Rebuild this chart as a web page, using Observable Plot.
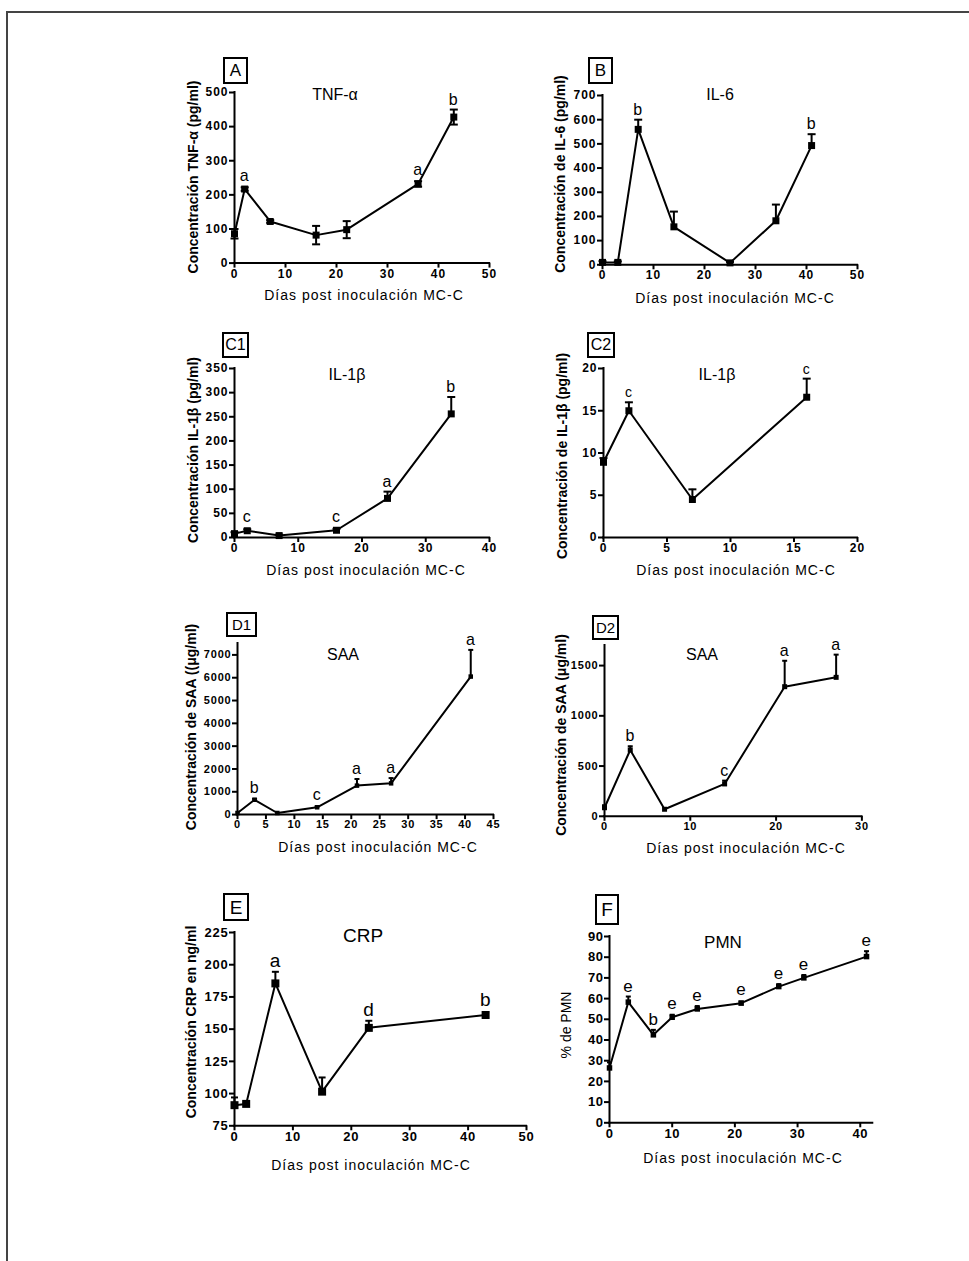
<!DOCTYPE html>
<html><head><meta charset="utf-8">
<script src="https://cdn.jsdelivr.net/npm/d3@7"></script>
<script src="https://cdn.jsdelivr.net/npm/@observablehq/plot@0.6"></script>
<style>
body{margin:0;background:#fff;}
#page{position:relative;width:969px;height:1261px;overflow:hidden;font-family:'Liberation Sans',Arial,sans-serif;color:#000;}
.bl{position:absolute;background:#444;}
.box{position:absolute;border:2px solid #000;box-sizing:border-box;display:flex;align-items:center;justify-content:center;line-height:1;}
.t{position:absolute;transform:translate(-50%,-50%);white-space:nowrap;line-height:1;}
.xl{position:absolute;transform:translate(-50%,-50%);white-space:nowrap;font-size:14px;letter-spacing:1px;line-height:1;}
.yl{position:absolute;transform:translate(-50%,-50%) rotate(-90deg);white-space:nowrap;font-weight:bold;font-size:14px;line-height:1;}
.panel{position:absolute;}
</style></head><body><div id="page"></div>
<script>
// ---------- DATA ----------
const xTitle = "Días post inoculación MC-C";

// A: TNF-alpha
const tnfDays = [0, 2, 7, 16, 22, 36, 43];
const tnfMean = [86, 217, 122, 82, 98, 232, 428];
const tnfErr  = [14, 5, 4, 27, 25, 8, 22];
const tnfSig  = ["", "a", "", "", "", "a", "b"];
const tnfXTicks = [0, 10, 20, 30, 40, 50];
const tnfYTicks = [0, 100, 200, 300, 400, 500];

// B: IL-6
const il6Days = [0, 3, 7, 14, 25, 34, 41];
const il6Mean = [10, 10, 560, 157, 8, 182, 493];
const il6Err  = [5, 4, 40, 63, 4, 67, 47];
const il6Sig  = ["", "", "b", "", "", "", "b"];
const il6XTicks = [0, 10, 20, 30, 40, 50];
const il6YTicks = [0, 100, 200, 300, 400, 500, 600, 700];

// C1: IL-1beta
const il1aDays = [0, 2, 7, 16, 24, 34];
const il1aMean = [8, 14, 4, 15, 81, 256];
const il1aErr  = [3, 3, 2, 3, 14, 35];
const il1aSig  = ["", "c", "", "c", "a", "b"];
const il1aXTicks = [0, 10, 20, 30, 40];
const il1aYTicks = [0, 50, 100, 150, 200, 250, 300, 350];

// C2: IL-1beta (first days)
const il1bDays = [0, 2, 7, 16];
const il1bMean = [8.9, 15.0, 4.5, 16.6];
const il1bErr  = [0.5, 1.0, 1.2, 2.2];
const il1bSig  = ["", "c", "", "c"];
const il1bXTicks = [0, 5, 10, 15, 20];
const il1bYTicks = [0, 5, 10, 15, 20];

// D1: SAA
const saaaDays = [0, 3, 7, 14, 21, 27, 41];
const saaaMean = [70, 650, 70, 320, 1270, 1370, 6050];
const saaaErr  = [0, 40, 0, 40, 290, 230, 1170];
const saaaSig  = ["", "b", "", "c", "a", "a", "a"];
const saaaXTicks = [0, 5, 10, 15, 20, 25, 30, 35, 40, 45];
const saaaYTicks = [0, 1000, 2000, 3000, 4000, 5000, 6000, 7000];

// D2: SAA (first days)
const saabDays = [0, 3, 7, 14, 21, 27];
const saabMean = [85, 660, 70, 322, 1290, 1383];
const saabErr  = [25, 37, 0, 33, 258, 226];
const saabSig  = ["", "b", "", "c", "a", "a"];
const saabXTicks = [0, 10, 20, 30];
const saabYTicks = [0, 500, 1000, 1500];

// E: CRP
const crpDays = [0, 2, 7, 15, 23, 43];
const crpMean = [91, 92, 185.5, 101.5, 151, 161];
const crpErr  = [6, 1, 9, 11, 5.5, 2];
const crpSig  = ["", "", "a", "", "d", "b"];
const crpXTicks = [0, 10, 20, 30, 40, 50];
const crpYTicks = [75, 100, 125, 150, 175, 200, 225];

// F: PMN
const pmnDays = [0, 3, 7, 10, 14, 21, 27, 31, 41];
const pmnMean = [26.5, 58.3, 42.5, 51, 55, 57.8, 65.8, 70, 80.3];
const pmnErr  = [2.7, 2.7, 2.4, 1.2, 1.4, 0.8, 1.2, 1.4, 2.6];
const pmnSig  = ["", "e", "b", "e", "e", "e", "e", "e", "e"];
const pmnXTicks = [0, 10, 20, 30, 40];
const pmnYTicks = [0, 10, 20, 30, 40, 50, 60, 70, 80, 90];

// ---------- LAYOUT ----------
const panels = [
  {key:"A", title:"TNF-α", ylab:"Concentración TNF-α (pg/ml)", days:tnfDays, mean:tnfMean, err:tnfErr, sig:tnfSig, xTicks:tnfXTicks, yTicks:tnfYTicks,
   xDomain:[0,50], yDomain:[0,500], x0:234.3, x1:489.3, yT:91.7, yB:262.3, both:true, mk:7, cap:8, tf:12, ls:1, sf:16,
   box:[223,57,25,27,17], ttl:[335,95,16], xl:[364,295], yl:[193,177]},
  {key:"B", title:"IL-6", ylab:"Concentración de IL-6 (pg/ml)", days:il6Days, mean:il6Mean, err:il6Err, sig:il6Sig, xTicks:il6XTicks, yTicks:il6YTicks,
   xDomain:[0,50], yDomain:[0,700], x0:601.7, x1:856.7, yT:95, yB:264.3, both:false, mk:7, cap:8, tf:12, ls:1, sf:16,
   box:[588,57,25,27,17], ttl:[720,95,16], xl:[735,298], yl:[560,174]},
  {key:"C1", title:"IL-1β", ylab:"Concentración IL-1β (pg/ml)", days:il1aDays, mean:il1aMean, err:il1aErr, sig:il1aSig, xTicks:il1aXTicks, yTicks:il1aYTicks,
   xDomain:[0,40], yDomain:[0,350], x0:234.3, x1:489.3, yT:368.3, yB:537.3, both:false, mk:7, cap:8, tf:12, ls:1, sf:16,
   box:[222,332,27,26,16], ttl:[347,375,16], xl:[366,570], yl:[193,450]},
  {key:"C2", title:"IL-1β", ylab:"Concentración de IL-1β (pg/ml)", days:il1bDays, mean:il1bMean, err:il1bErr, sig:il1bSig, xTicks:il1bXTicks, yTicks:il1bYTicks,
   xDomain:[0,20], yDomain:[0,20], x0:603.3, x1:857.3, yT:368.3, yB:537.3, both:false, mk:7, cap:8, tf:12, ls:1, sf:14,
   box:[587,332,28,26,16], ttl:[717,375,16], xl:[736,570], yl:[562,456]},
  {key:"D1", title:"SAA", ylab:"Concentración de SAA ((μg/ml)", days:saaaDays, mean:saaaMean, err:saaaErr, sig:saaaSig, xTicks:saaaXTicks, yTicks:saaaYTicks,
   xDomain:[0,45], yDomain:[0,7500], x0:237.3, x1:493.3, yT:642.9, yB:814, both:false, mk:4.5, cap:5, tf:11, ls:0.8, sf:16,
   box:[226,612,31,25,15], ttl:[343,655,16], xl:[378,847], yl:[191,727]},
  {key:"D2", title:"SAA", ylab:"Concentración de SAA (μg/ml)", days:saabDays, mean:saabMean, err:saabErr, sig:saabSig, xTicks:saabXTicks, yTicks:saabYTicks,
   xDomain:[0,30], yDomain:[0,1700], x0:604.3, x1:861.7, yT:644.9, yB:815.7, both:false, mk:5, cap:5, tf:11, ls:0.8, sf:16,
   box:[592,615,27,25,15], ttl:[702,655,16], xl:[746,848], yl:[561,735]},
  {key:"E", title:"CRP", ylab:"Concentración CRP en ng/ml", days:crpDays, mean:crpMean, err:crpErr, sig:crpSig, xTicks:crpXTicks, yTicks:crpYTicks,
   xDomain:[0,50], yDomain:[75,225], x0:233.8, x1:525.8, yT:931.7, yB:1125, both:false, mk:8, cap:7, tf:13, ls:0.8, sf:19,
   box:[223,893,26,28,19], ttl:[363,935,19], xl:[371,1165], yl:[191,1022]},
  {key:"F", title:"PMN", ylab:"% de PMN", days:pmnDays, mean:pmnMean, err:pmnErr, sig:pmnSig, xTicks:pmnXTicks, yTicks:pmnYTicks,
   xDomain:[0,42], yDomain:[0,90], x0:609, x1:872.3, yT:936, yB:1122.3, both:false, mk:5.5, cap:5, tf:13, ls:0.5, sf:17,
   box:[595,894,24,31,19], ttl:[723,942,17], xl:[743,1158], yl:[566,1025], ylNormal:true}
];

const page = document.getElementById("page");
function addDiv(cls, css, text) {
  const d = document.createElement("div");
  d.className = cls;
  Object.assign(d.style, css);
  if (text != null) d.textContent = text;
  page.appendChild(d);
  return d;
}
// page frame (top and left edges)
addDiv("bl", {left:"6px", top:"11px", width:"963px", height:"2px"});
addDiv("bl", {left:"6px", top:"11px", width:"2px", height:"1250px"});

const capSymbol = {draw(context, size) { const w = Math.sqrt(size) / 2; context.moveTo(-w, 0); context.lineTo(w, 0); }};
const SQ = Math.sqrt(Math.PI);

for (const p of panels) {
  const mL = 70, mR = 20, mT = 30, mB = 30;
  const w = (p.x1 - p.x0) + mL + mR;
  const h = (p.yB - p.yT) + mT + mB;
  const data = p.days.map((d, i) => ({x: d, y: p.mean[i], e: p.err[i], s: p.sig[i]}));
  const k = (p.yDomain[1] - p.yDomain[0]) / (p.yB - p.yT);
  const half = (p.mk / 2) * k;
  const errData = data.filter(d => d.e > 0);
  const marks = [
    Plot.ruleY([p.yDomain[0]], {stroke: "black", strokeWidth: 2, strokeLinecap: "square"}),
    Plot.ruleX([p.xDomain[0]], {stroke: "black", strokeWidth: 2, strokeLinecap: "square"}),
    Plot.axisX({ticks: p.xTicks, tickSize: 5, tickPadding: 1, strokeWidth: 2, label: null, tickFormat: d => String(d)}),
    Plot.axisY({ticks: p.yTicks, tickSize: 5, tickPadding: 1, strokeWidth: 2, label: null, tickFormat: d => String(d)}),
    Plot.ruleX(errData, {x: "x", y1: d => p.both ? d.y - d.e : d.y, y2: d => d.y + d.e, stroke: "black", strokeWidth: 2}),
    Plot.dot(errData, {x: "x", y: d => d.y + d.e, symbol: capSymbol, r: p.cap / SQ, fill: "none", stroke: "black", strokeWidth: 2})
  ];
  if (p.both) marks.push(Plot.dot(errData, {x: "x", y: d => d.y - d.e, symbol: capSymbol, r: p.cap / SQ, fill: "none", stroke: "black", strokeWidth: 2}));
  marks.push(
    Plot.line(data, {x: "x", y: "y", stroke: "black", strokeWidth: 2}),
    Plot.dot(data, {x: "x", y: "y", symbol: "square", r: p.mk / SQ, fill: "black", stroke: "none"}),
    Plot.text(data.filter(d => d.s), {x: "x", y: d => Math.max(d.y + d.e, d.y + half), text: "s", lineAnchor: "bottom", dy: -5,
      fontSize: p.sf, fontWeight: "normal", fill: "black"})
  );
  const chart = Plot.plot({
    width: w, height: h, marginLeft: mL, marginRight: mR, marginTop: mT, marginBottom: mB,
    style: {background: "transparent", overflow: "visible", color: "black", fontFamily: "'Liberation Sans', Arial, sans-serif",
      fontSize: p.tf + "px", fontWeight: "bold", letterSpacing: p.ls + "px"},
    x: {domain: p.xDomain},
    y: {domain: p.yDomain},
    marks
  });
  chart.classList.add("panel");
  chart.style.left = (p.x0 - mL) + "px";
  chart.style.top = (p.yT - mT) + "px";
  chart.style.position = "absolute";
  page.appendChild(chart);

  // annotations
  const [bx, by, bw, bh, bf] = p.box;
  addDiv("box", {left: bx + "px", top: by + "px", width: bw + "px", height: bh + "px", fontSize: bf + "px"}, p.key);
  addDiv("t", {left: p.ttl[0] + "px", top: p.ttl[1] + "px", fontSize: p.ttl[2] + "px"}, p.title);
  addDiv("xl", {left: p.xl[0] + "px", top: p.xl[1] + "px"}, xTitle);
  const y = addDiv("yl", {left: p.yl[0] + "px", top: p.yl[1] + "px"}, p.ylab);
  if (p.ylNormal) { y.style.fontWeight = "normal"; }
}
</script></body></html>
